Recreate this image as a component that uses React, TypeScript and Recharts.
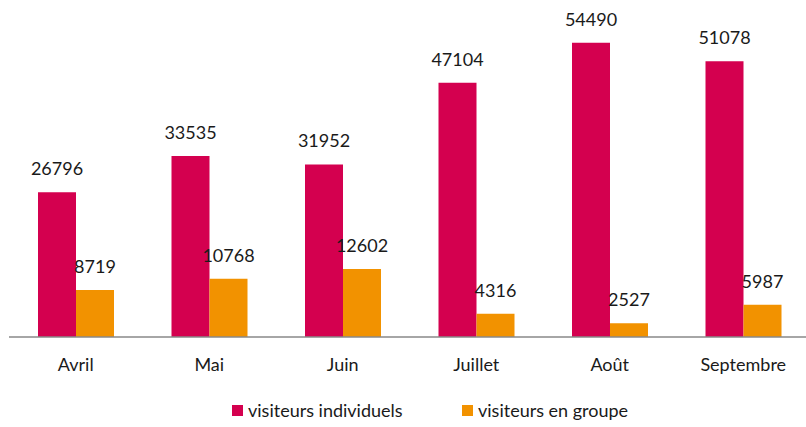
import React from "react";
import { BarChart, Bar, XAxis, YAxis, Legend, LabelList } from "recharts";

const months = ["Avril", "Mai", "Juin", "Juillet", "Août", "Septembre"];
const individuels = [26796, 33535, 31952, 47104, 54490, 51078];
const groupes = [8719, 10768, 12602, 4316, 2527, 5987];

const RED = "#D4004F";
const ORANGE = "#F29200";
const FONT = "Lato, 'Open Sans', sans-serif";

const data = months.map((month, i) => ({
  month,
  individuels: individuels[i],
  groupes: groupes[i],
}));

const legendItems = [
  { label: "visiteurs individuels", color: RED, width: 230 },
  { label: "visiteurs en groupe", color: ORANGE, width: 200 },
];

const CustomLegend = () => (
  <div style={{ display: "flex", paddingLeft: 223, height: 24, alignItems: "center" }}>
    {legendItems.map((item) => (
      <div
        key={item.label}
        style={{ display: "flex", alignItems: "center", width: item.width, fontFamily: FONT, fontSize: 18, color: "#1a1a1a" }}
      >
        <span style={{ width: 11, height: 11, background: item.color, marginRight: 5, display: "inline-block" }} />
        <span>{item.label}</span>
      </div>
    ))}
  </div>
);

export default function App() {
  return (
    <div style={{ position: "absolute", left: 0, top: 0, width: 806, height: 427, background: "#fff", overflow: "hidden" }}>
      <BarChart
        width={806}
        height={427}
        data={data}
        margin={{ top: 13, right: -4, left: 9, bottom: 5 }}
        barGap={0}
        barSize={38}
      >
        <XAxis
          dataKey="month"
          tickLine={false}
          axisLine={{ stroke: "#888", strokeWidth: 1.5 }}
          tick={{ fill: "#1a1a1a", fontSize: 18, fontFamily: FONT }}
          tickMargin={15}
          height={61}
        />
        <YAxis hide domain={[0, 60000]} />
        <Legend verticalAlign="bottom" content={<CustomLegend />} />
        <Bar dataKey="individuels" fill={RED} isAnimationActive={false}>
          <LabelList dataKey="individuels" position="top" offset={17} fill="#1a1a1a" fontSize={18} fontFamily={FONT} />
        </Bar>
        <Bar dataKey="groupes" fill={ORANGE} isAnimationActive={false}>
          <LabelList dataKey="groupes" position="top" offset={17} fill="#1a1a1a" fontSize={18} fontFamily={FONT} />
        </Bar>
      </BarChart>
    </div>
  );
}
